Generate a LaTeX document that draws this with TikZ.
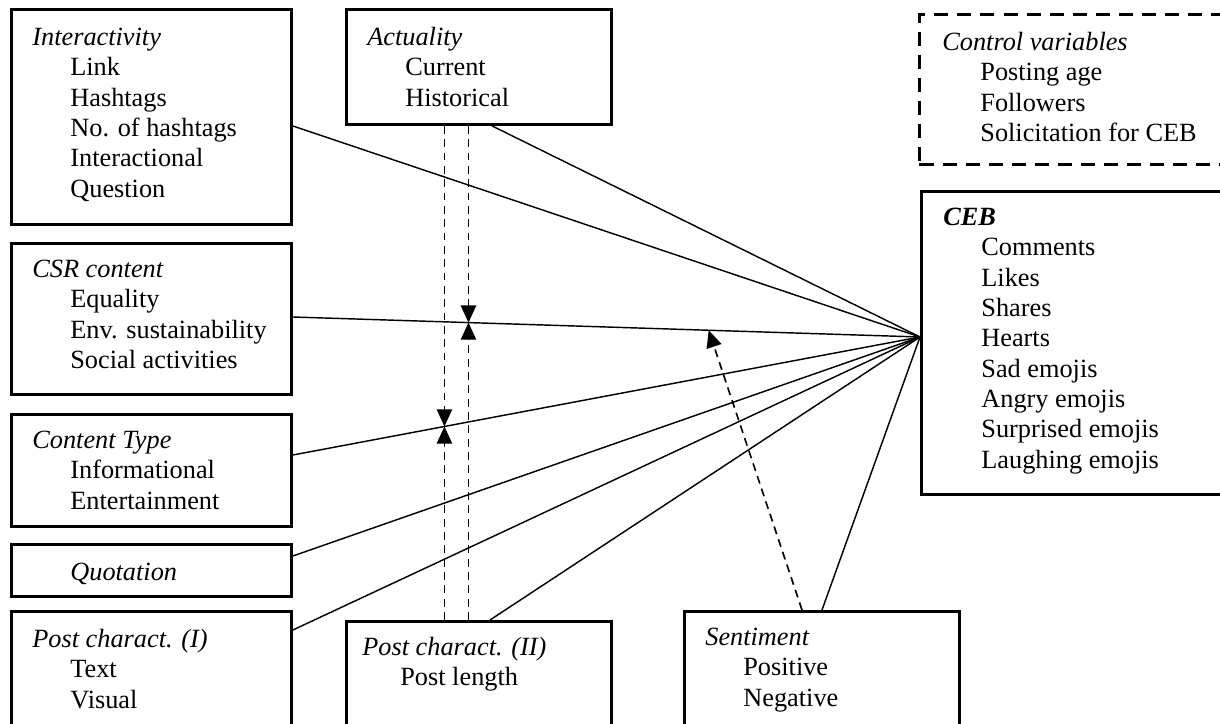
\documentclass[tikz,border=0pt]{standalone}
\usepackage{fontspec}
\setmainfont{Liberation Serif}
\usetikzlibrary{arrows.meta,calc}
\newlength\pxu
\setlength\pxu{0.555pt}
\newcommand\itemind{\hspace*{38\pxu}}
\newcommand\firstline{\rule{0pt}{20\pxu}}
\begin{document}
\begin{tikzpicture}[
 x=0.555pt,y=-0.555pt,
 box/.style 2 args={draw,line width=1.6pt,anchor=north west,inner sep=0pt,
   minimum width=#1\pxu,minimum height=#2\pxu},
 ctrlbox/.style={dash pattern=on 7.8pt off 5pt},
 txt/.style={anchor=north west,align=left,inner sep=0pt,
   font=\fontsize{14.6}{16.85}\selectfont},
 link/.style={line width=0.8pt},
 mod/.style={line width=0.9pt,dash pattern=on 4.4pt off 3pt,
   -{Triangle[length=9.5pt,width=8.5pt]}},
 ]
 \useasboundingbox (0,0) rectangle (1220,724);

 % boxes
 \node[box={280}{215}] (inter) at (10,8) {};
 \node[box={265}{115}] (act) at (345,8) {};
 \node[box={320}{150},ctrlbox] (ctrl) at (918,13) {};
 \node[box={320}{303}] (ceb) at (920,190) {};
 \node[box={280}{151}] (csr) at (10,242) {};
 \node[box={280}{112}] (ctype) at (10,413) {};
 \node[box={280}{52}] (quot) at (10,543) {};
 \node[box={280}{130}] (post1) at (10,610) {};
 \node[box={265}{120}] (post2) at (345,620) {};
 \node[box={275}{130}] (sent) at (683,610) {};

 % texts (first line 20 px high)
 \node[txt] (intertxt) at ($(inter.north west)+(22,17)$)
   {\firstline\textit{Interactivity}\\\itemind Link\\\itemind Hashtags\\
    \itemind No. of hashtags\\\itemind Interactional\\\itemind Question};
 \node[txt] (acttxt) at ($(act.north west)+(22,17)$)
   {\firstline\textit{Actuality}\\\itemind Current\\\itemind Historical};
 \node[txt] (ctrltxt) at ($(ctrl.north west)+(24,17)$)
   {\firstline\textit{Control variables}\\\itemind Posting age\\\itemind Followers\\
    \itemind Solicitation for CEB};
 \node[txt] (cebtxt) at ($(ceb.north west)+(23,15)$)
   {\firstline\textbf{\textit{CEB}}\\\itemind Comments\\\itemind Likes\\\itemind Shares\\
    \itemind Hearts\\\itemind Sad emojis\\\itemind Angry emojis\\
    \itemind Surprised emojis\\\itemind Laughing emojis};
 \node[txt] (csrtxt) at ($(csr.north west)+(22,15)$)
   {\firstline\textit{CSR content}\\\itemind Equality\\\itemind Env. sustainability\\
    \itemind Social activities};
 \node[txt] (ctypetxt) at ($(ctype.north west)+(22,15)$)
   {\firstline\textit{Content Type}\\\itemind Informational\\\itemind Entertainment};
 \node[txt] (quottxt) at ($(quot.north west)+(60,17)$) {\firstline\textit{Quotation}};
 \node[txt] (post1txt) at ($(post1.north west)+(22,17)$)
   {\firstline\textit{Post charact. (I)}\\\itemind Text\\\itemind Visual};
 \node[txt] (post2txt) at ($(post2.north west)+(17,15)$)
   {\firstline\textit{Post charact. (II)}\\\itemind Post length};
 \node[txt] (senttxt) at ($(sent.north west)+(22,15)$)
   {\firstline\textit{Sentiment}\\\itemind Positive\\\itemind Negative};

 % end points
 \coordinate (hub) at ($(ceb.north west)+(0,147)$);
 \coordinate (interout) at ($(inter.north east)+(0,118)$);
 \coordinate (actout) at ($(act.south west)+(147,0)$);
 \coordinate (csrout) at ($(csr.north east)+(0,75)$);
 \coordinate (ctypeout) at ($(ctype.north east)+(0,42)$);
 \coordinate (quotout) at ($(quot.north east)+(0,13)$);
 \coordinate (post1out) at ($(post1.north east)+(0,20)$);
 \coordinate (post2out) at ($(post2.north west)+(145,0)$);
 \coordinate (sentout) at ($(sent.north west)+(139,0)$);
 \coordinate (sentmod) at ($(sent.north west)+(119,0)$);

 \foreach \s in {interout,actout,csrout,ctypeout,quotout,post1out,post2out,sentout}
   \draw[link] (\s) -- (hub);

 \path (csrout) -- (hub) coordinate[pos=0.28] (mcsr) coordinate[pos=0.663] (msent);
 \path (ctypeout) -- (hub) coordinate[pos=0.2417] (mctype);

 % moderators
 \draw[mod] (mcsr |- act.south) -- (mcsr);
 \draw[mod] (mcsr |- post2.north) -- (mcsr);
 \draw[mod] (mctype |- act.south) -- (mctype);
 \draw[mod] (mctype |- post2.north) -- (mctype);
 \draw[mod] (sentmod) -- (msent);

\end{tikzpicture}
\end{document}
